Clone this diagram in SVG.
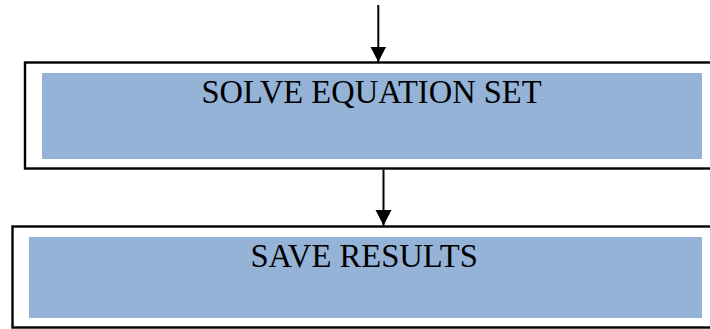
<svg xmlns="http://www.w3.org/2000/svg" width="710" height="329" viewBox="0 0 710 329">
  <style>
    .frame { fill: #ffffff; stroke: #000000; stroke-width: 2.4; }
    .fill { fill: #95B3D7; stroke: none; }
    .label { font-family: "Liberation Serif", "Times New Roman", serif; font-size: 33px; fill: #000000; }
    .conn { stroke: #000000; stroke-width: 2; fill: none; }
  </style>
  <defs>
    <marker id="arrow" markerUnits="userSpaceOnUse" markerWidth="16" markerHeight="17" refX="15.5" refY="8" orient="auto">
      <polygon points="0,0 15.5,8 0,16" fill="#000000"/>
    </marker>
  </defs>
  <rect width="710" height="329" fill="#ffffff"/>
  <g id="node-solve">
    <rect class="frame" x="25" y="62.5" width="700" height="106"/>
    <rect class="fill" x="42" y="73" width="660" height="86"/>
    <text class="label" x="201.5" y="102.8" textLength="340" lengthAdjust="spacingAndGlyphs">SOLVE EQUATION SET</text>
  </g>
  <g id="node-save">
    <rect class="frame" x="12.5" y="226.5" width="712" height="101"/>
    <rect class="fill" x="29" y="237" width="673" height="81"/>
    <text class="label" x="250.4" y="266.7" textLength="227.4" lengthAdjust="spacingAndGlyphs">SAVE RESULTS</text>
  </g>
  <g id="connectors">
    <line class="conn" x1="378.3" y1="5" x2="378.3" y2="62" marker-end="url(#arrow)"/>
    <line class="conn" x1="383.5" y1="169.7" x2="383.5" y2="225.5" marker-end="url(#arrow)"/>
  </g>
</svg>
